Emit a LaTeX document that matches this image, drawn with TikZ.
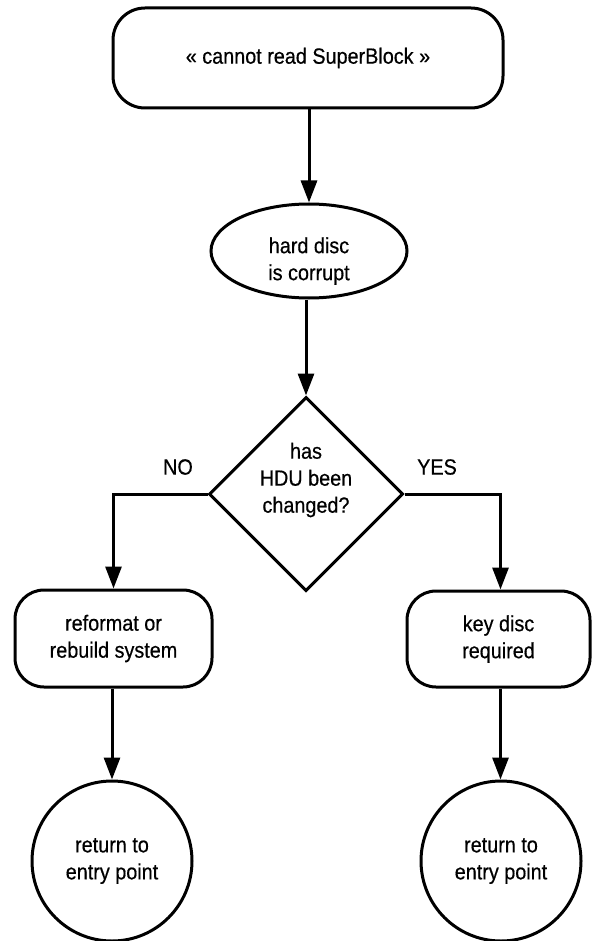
\documentclass[tikz,border=0pt]{standalone}
\usepackage{fontspec}
\setmainfont{Liberation Sans}[FakeStretch=0.9,FakeBold=0.5]
\usetikzlibrary{shapes.geometric,arrows.meta}
\begin{document}
\begin{tikzpicture}[x=1pt,y=-1pt,
  every node/.style={font=\fontsize{22}{27}\selectfont, align=center, inner sep=0pt},
  outline/.style={draw, line width=3pt},
  wire/.style={line width=3pt},
  flow/.style={wire, -{Triangle[length=22pt,width=16pt]}},
  procbox/.style={outline, rectangle, rounded corners=29pt},
  startbox/.style={outline, rectangle, rounded corners=32pt},
  statebox/.style={outline, ellipse},
  choice/.style={outline, diamond},
  endpoint/.style={outline, circle, minimum size=160pt},
  tag/.style={font=\fontsize{22}{24}\selectfont}
]
\useasboundingbox (0,0) rectangle (591,941);

% start message
\node[startbox, minimum width=390pt, minimum height=100pt] (start) at (308,58)
  {« cannot read SuperBlock »};

% diagnosis
\node[statebox, minimum width=196pt, minimum height=94pt] (corrupt) at (309,251) {};
\node at ([yshift=-10pt]corrupt.center) (corrupttxt) {hard disc\\is corrupt};

% decision
\node[choice, minimum width=194pt, minimum height=194pt] (hdu) at (306,494) {};
\node at ([yshift=14pt]hdu.center) (hdutxt) {has\\HDU been\\changed?};

% branch labels
\node[tag] (no) at (178,467) {NO};
\node[tag] (yes) at (437,467) {YES};

% actions
\node[procbox, minimum width=197pt, minimum height=97pt] (reformat) at (113.5,638.5)
  {reformat or\\rebuild system};
\node[procbox, minimum width=183pt, minimum height=96pt] (keydisc) at (498.5,639)
  {key disc\\required};

% terminals
\node[endpoint] (retL) at (112,861) {return to\\entry point};
\node[endpoint] (retR) at (501,861) {return to\\entry point};

% connectors
\draw[flow] (start.south -| corrupt.north) -- (corrupt.north);
\draw[flow] (corrupt.south -| hdu.north) -- (hdu.north);
\draw[flow] (hdu.west) -| (reformat.north);
\draw[flow] (hdu.east) -| ([xshift=2pt]keydisc.north);
\draw[flow] (reformat.south -| retL.north) -- (retL.north);
\draw[flow] ([xshift=2pt]keydisc.south) -- ([xshift=2pt]keydisc.south |- retR.north);
\end{tikzpicture}
\end{document}
